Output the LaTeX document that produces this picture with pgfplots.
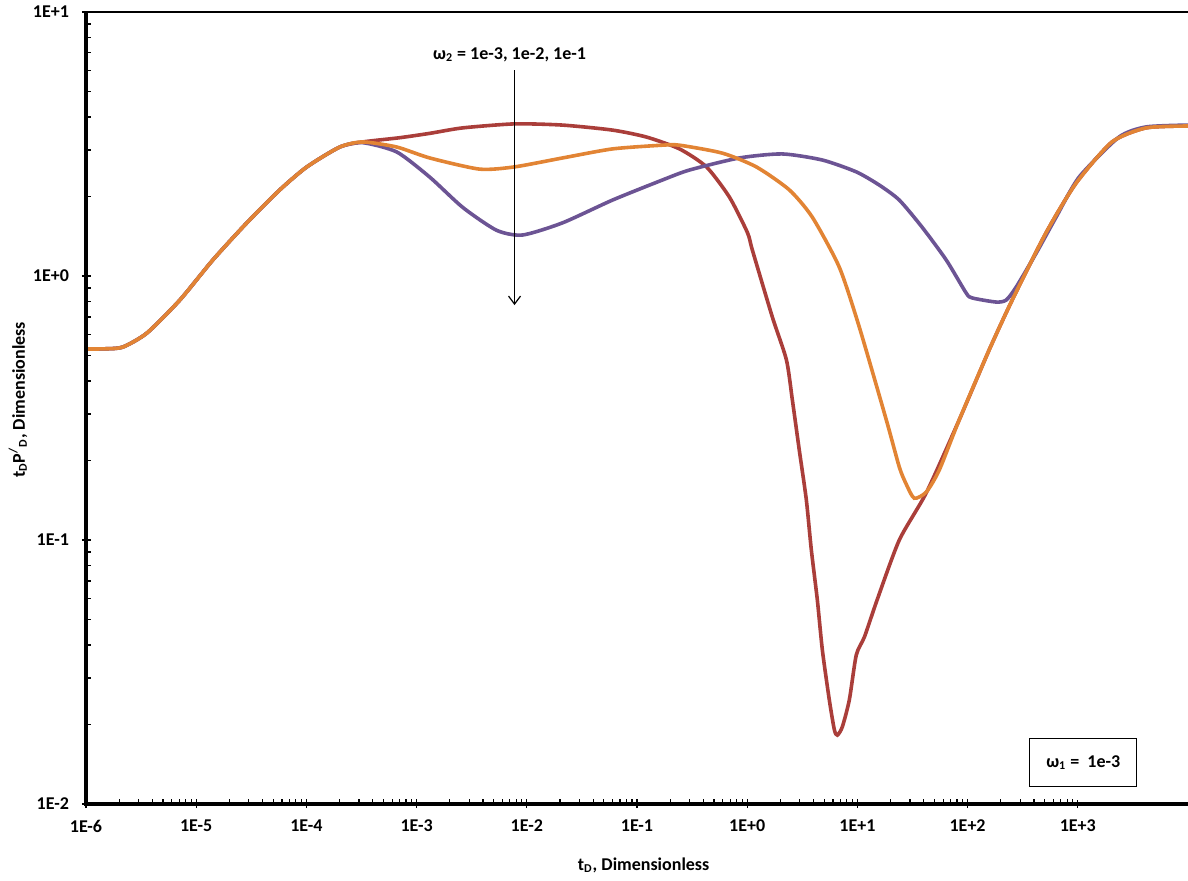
\documentclass[border=0pt]{standalone}
\usepackage{fontspec}
\setmainfont{Carlito}
\usepackage{pgfplots}
\pgfplotsset{compat=1.18}
\usetikzlibrary{arrows.meta}
\definecolor{cred}{RGB}{170,62,58}
\definecolor{cpurple}{RGB}{108,84,148}
\definecolor{corange}{RGB}{226,132,52}
\newcommand{\lf}{\fontsize{9}{10.5}\selectfont\bfseries}
\begin{document}
\begin{tikzpicture}
\begin{axis}[
  scale only axis, width=551pt, height=396pt,
  xmode=log, ymode=log,
  xmin=1e-6, xmax=1e4, ymin=1e-2, ymax=1e1,
  xtick={1e-6,1e-5,1e-4,1e-3,1e-2,1e-1,1,10,100,1000},
  xticklabels={1E-6,1E-5,1E-4,1E-3,1E-2,1E-1,1E+0,1E+1,1E+2,1E+3},
  ytick={1e-2,1e-1,1,10},
  yticklabels={1E-2,1E-1,1E+0,1E+1},
  tick pos=left,
  tick align=center,
  major tick length=4pt, minor tick length=2.6pt,
  minor x tick style={yshift=1.3pt}, minor y tick style={xshift=1.3pt},
  tick style={black, line width=0.6pt},
  axis line style={draw=none},
  ticklabel style={font=\lf},
  xticklabel style={yshift=-2.5pt},
  yticklabel style={xshift=-3pt},
  clip mode=individual,
  every axis plot/.append style={line width=1.8pt, smooth, tension=0.4, no markers},
]
\addplot[cred] coordinates {
(1e-6,0.529)(1.5e-6,0.530)(2.16e-6,0.538)(3.57e-6,0.608)(7.11e-6,0.811)(1.416e-5,1.15)
(2.88e-5,1.59)(5.74e-5,2.12)(1.01e-4,2.59)(2.01e-4,3.08)(3.24e-4,3.22)(7.0e-4,3.34)
(1.315e-3,3.47)(2.62e-3,3.64)(7.74e-3,3.77)(2.11e-2,3.73)(6.0e-2,3.57)(0.122,3.36)
(0.243,3.03)(0.427,2.59)(0.690,1.99)(1.005,1.46)(1.114,1.254)(1.69,0.700)(2.27,0.481)
(2.57,0.339)(2.97,0.219)(3.44,0.142)(3.82,0.0917)(4.33,0.0593)(4.81,0.0383)(5.56,0.0248)
(6.18,0.0191)(6.58,0.01824)
(7.30,0.0196)(8.45,0.0248)(9.77,0.0367)(11.6,0.0430)(15.1,0.0593)(24.0,0.1)(42.2,0.151)
(83.9,0.285)(157,0.525)(254,0.811)(516,1.46)(966,2.25)(2046,3.22)(4159,3.64)(1e4,3.70)
};
\addplot[cpurple] coordinates {
(1e-6,0.529)(1.5e-6,0.530)(2.16e-6,0.538)(3.57e-6,0.608)(7.11e-6,0.811)(1.416e-5,1.15)
(2.88e-5,1.59)(5.74e-5,2.12)(1.01e-4,2.59)(2.01e-4,3.08)(3.24e-4,3.20)(6.61e-4,2.95)
(1.315e-3,2.37)(2.62e-3,1.82)(5.32e-3,1.49)(9.16e-3,1.43)(2.11e-2,1.59)(6.0e-2,1.94)
(0.170,2.31)(0.299,2.52)(0.849,2.80)(2.08,2.90)(4.81,2.75)(9.77,2.48)(15.8,2.21)
(24.0,1.94)(38.7,1.53)(64.0,1.15)(97.1,0.862)(110,0.826)(182,0.797)(224,0.811)
(276,0.908)(419,1.22)(635,1.67)(1028,2.37)(2366,3.36)(4159,3.67)(1e4,3.73)
};
\addplot[corange] coordinates {
(1e-6,0.529)(1.5e-6,0.530)(2.16e-6,0.538)(3.57e-6,0.608)(7.11e-6,0.811)(1.416e-5,1.15)
(2.88e-5,1.59)(5.74e-5,2.12)(1.01e-4,2.59)(2.01e-4,3.08)(3.24e-4,3.22)(6.61e-4,3.08)
(1.315e-3,2.80)(3.73e-3,2.54)(7.74e-3,2.59)(2.11e-2,2.80)(6.0e-2,3.03)(0.170,3.13)
(0.243,3.13)(0.596,2.92)(1.21,2.59)(2.41,2.12)(3.90,1.67)(6.85,1.08)(10.4,0.641)
(18.3,0.285)(24.0,0.189)(27.7,0.163)(32.8,0.144)(42.2,0.152)(55.3,0.184)(83.9,0.285)(157,0.525)
(254,0.811)(516,1.46)(966,2.25)(2046,3.22)(4159,3.64)(1e4,3.70)
};
\draw[-{Straight Barb[length=4pt,width=6pt]}, line width=0.6pt] (axis cs:7.74e-3,6.03) -- (axis cs:7.74e-3,0.776);
\node[font=\lf] at (axis cs:6.98e-3,6.87) {ω\textsubscript{2} = 1e-3, 1e-2, 1e-1};
\node[draw, line width=0.6pt, minimum width=53.5pt, minimum height=24pt, font=\lf]
  at (rel axis cs:0.905,0.052) {ω\textsubscript{1} =\ \ 1e-3};
\end{axis}
\draw[line width=1pt] (current axis.north west) -- (current axis.north east);
\draw[line width=2pt] (current axis.north west) -- (current axis.south west) -- (current axis.south east);
\path ([shift={(0.506*551pt,-30.5pt)}]current axis.south west) node[font=\lf] {t\textsubscript{D}, Dimensionless};
\path ([shift={(-34pt,4pt)}]current axis.west) node[rotate=90, font=\lf] {t\textsubscript{D}P\textsuperscript{/}\textsubscript{D}, Dimensionless};
\pgfresetboundingbox
\path[use as bounding box] ([shift={(-43pt,-38pt)}]current axis.south west) rectangle ([shift={(0pt,6pt)}]current axis.north east);
\end{tikzpicture}
\end{document}
